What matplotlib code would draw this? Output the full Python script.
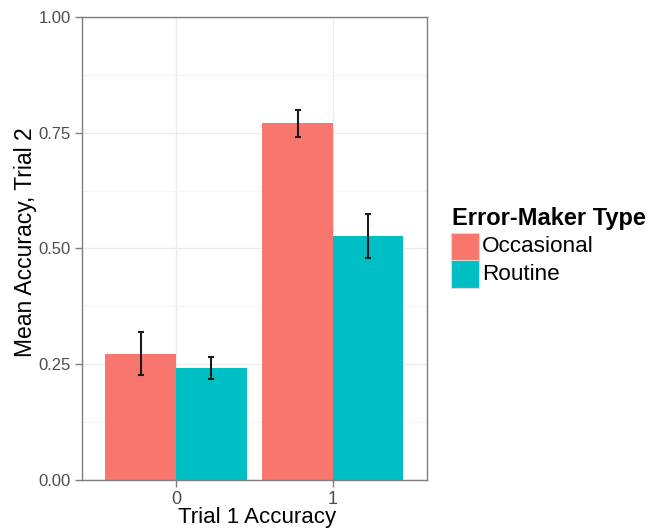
import matplotlib
matplotlib.use("Agg")
import matplotlib.pyplot as plt
import numpy as np
from matplotlib.patches import Rectangle

categories = ["0", "1"]
series_names = ["Occasional", "Routine"]
occasional = [0.273, 0.770]
routine = [0.242, 0.527]
occ_lo = [0.226, 0.741]
occ_hi = [0.320, 0.800]
rou_lo = [0.219, 0.479]
rou_hi = [0.265, 0.574]
yticks = [0.0, 0.25, 0.5, 0.75, 1.0]
ytick_labels = ["0.00", "0.25", "0.50", "0.75", "1.00"]
colors = ["#F8766D", "#00BFC4"]

plt.rcParams['font.family'] = ['Liberation Sans', 'DejaVu Sans']

fig = plt.figure(figsize=(6.62, 5.28), dpi=100)
W, H = 662, 528
x0, x1, yb, yt = 81.8, 427.0, 480.0, 17.0
ax = fig.add_axes([x0 / W, (H - yb) / H, (x1 - x0) / W, (yb - yt) / H])

pos = np.arange(1, len(categories) + 1)
bw = 0.45
vals = [occasional, routine]
los = [occ_lo, rou_lo]
his = [occ_hi, rou_hi]
for i, (v, lo, hi) in enumerate(zip(vals, los, his)):
    xs = pos + (i - 0.5) * bw
    ax.bar(xs, v, width=bw, color=colors[i], zorder=2, linewidth=0)
    v = np.array(v)
    ax.errorbar(xs, v, yerr=[v - np.array(lo), np.array(hi) - v], fmt='none',
                ecolor='#1a1a1a', elinewidth=1.5, capsize=2.3, capthick=1.5, zorder=3)

ax.set_xlim(0.4, 2.6)
ax.set_ylim(0, 1.0)
ax.set_yticks(yticks)
ax.set_yticklabels(ytick_labels)
ax.set_yticks([0.125, 0.375, 0.625, 0.875], minor=True)
ax.set_xticks(pos)
ax.set_xticklabels(categories)
ax.grid(True, which='major', color='#EBEBEB', linewidth=1.0, zorder=0)
ax.grid(True, which='minor', axis='y', color='#F5F5F5', linewidth=0.8, zorder=0)
ax.set_axisbelow(True)
for s in ax.spines.values():
    s.set_color('#7F7F7F')
    s.set_linewidth(1.0)
ax.tick_params(axis='both', which='major', length=5, color='#7F7F7F', width=1.0,
               labelsize=12, labelcolor='#4D4D4D', pad=3)
ax.tick_params(axis='x', which='major', labelsize=13, pad=3)
ax.tick_params(axis='both', which='minor', length=0)

# axis titles
fig.text(26 / W, 1 - 242 / H, "Mean Accuracy, Trial 2", fontsize=16.5,
         rotation=90, ha='center', va='center')
fig.text(257 / W, 1 - 522.5 / H, "Trial 1 Accuracy", fontsize=16,
         ha='center', va='baseline')

# legend
fig.text(452 / W, 1 - 218 / H, "Error-Maker Type", fontsize=17, fontweight='bold',
         va='center', ha='left')
key_y = [233, 260]
for i, name in enumerate(series_names):
    r = Rectangle((451 / W, 1 - (key_y[i] + 27.5) / H), 28 / W, 27.5 / H,
                  transform=fig.transFigure, facecolor=colors[i],
                  edgecolor='#D9D9D9', linewidth=0.8)
    fig.patches.append(r)
    fig.text(482 / W, 1 - (key_y[i] + 14) / H, name, fontsize=16.2, va='center', ha='left')

fig.savefig("out.png", dpi=100)
